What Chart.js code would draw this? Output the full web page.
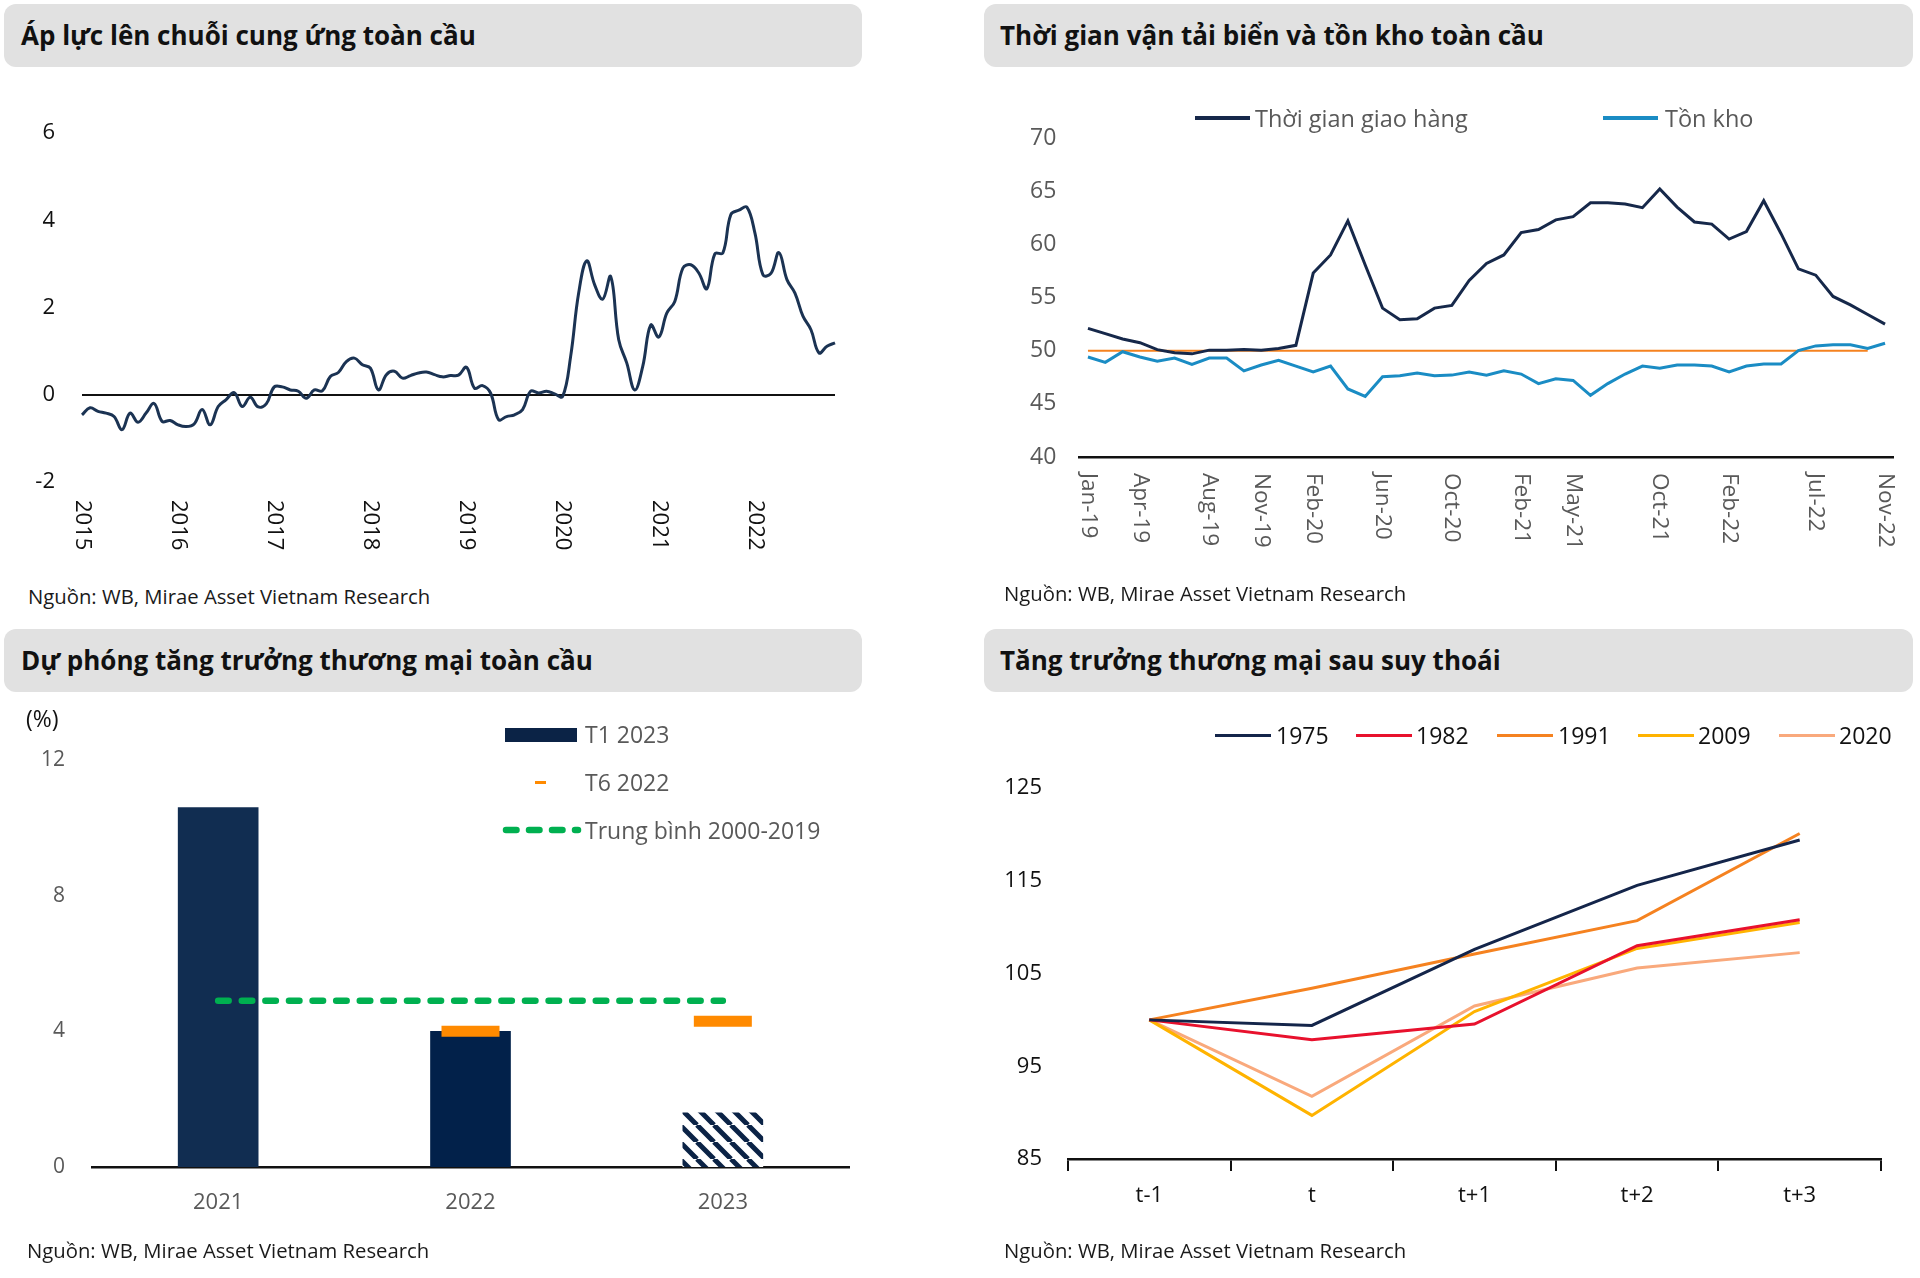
<!DOCTYPE html>
<html lang="vi">
<head>
<meta charset="utf-8">
<script src="https://cdn.jsdelivr.net/npm/chart.js@4.4.1/dist/chart.umd.min.js"></script>
<style>
html,body{margin:0;padding:0;background:#fff;}
body{width:1920px;height:1278px;position:relative;overflow:hidden;font-family:'Open Sans',sans-serif;}
.title{position:absolute;height:63px;background:#e1e1e1;border-radius:12px;font-weight:700;font-size:26px;color:#111;line-height:63px;box-sizing:border-box;white-space:nowrap;}
.src{position:absolute;font-size:20.3px;color:#1a1a1a;height:28px;line-height:28px;white-space:nowrap;}
.box{position:absolute;}
.lg{position:absolute;height:30px;line-height:30px;font-size:23px;white-space:nowrap;}
.sw{position:absolute;}
</style>
</head>
<body>
<div class="title" style="left:4px;top:4px;width:858px;padding-left:17px;">Áp lực lên chuỗi cung ứng toàn cầu</div>
<div class="title" style="left:984px;top:4px;width:929px;padding-left:16px;">Thời gian vận tải biển và tồn kho toàn cầu</div>
<div class="title" style="left:4px;top:629px;width:858px;padding-left:17px;">Dự phóng tăng trưởng thương mại toàn cầu</div>
<div class="title" style="left:984px;top:629px;width:929px;padding-left:16px;">Tăng trưởng thương mại sau suy thoái</div>

<div class="box" style="left:0;top:90px;width:870px;height:490px;"><canvas id="c1"></canvas></div>
<div class="box" style="left:984px;top:70px;width:936px;height:510px;"><canvas id="c2"></canvas></div>
<div class="box" style="left:0;top:700px;width:870px;height:540px;"><canvas id="c3"></canvas></div>
<div class="box" style="left:984px;top:700px;width:936px;height:540px;"><canvas id="c4"></canvas></div>

<div class="src" style="left:28px;top:582px;">Nguồn: WB, Mirae Asset Vietnam Research</div>
<div class="src" style="left:1004px;top:579px;">Nguồn: WB, Mirae Asset Vietnam Research</div>
<div class="src" style="left:27px;top:1236px;">Nguồn: WB, Mirae Asset Vietnam Research</div>
<div class="src" style="left:1004px;top:1236px;">Nguồn: WB, Mirae Asset Vietnam Research</div>

<!-- panel 2 legend -->
<div class="sw" style="left:1195px;top:116px;width:55px;height:3.5px;background:#16284a;"></div>
<div class="lg" style="left:1255px;top:103px;font-size:23.5px;color:#595959;">Thời gian giao hàng</div>
<div class="sw" style="left:1603px;top:116px;width:55px;height:3.5px;background:#1a8cc4;"></div>
<div class="lg" style="left:1665px;top:103px;font-size:23.5px;color:#595959;">Tồn kho</div>

<!-- panel 3 legend -->
<div class="lg" style="left:26px;top:703px;font-size:23px;color:#111;">(%)</div>
<div class="sw" style="left:505px;top:728px;width:72px;height:14px;background:#0b2346;"></div>
<div class="lg" style="left:585px;top:719px;color:#595959;">T1 2023</div>
<div class="sw" style="left:535px;top:781px;width:11px;height:2.5px;background:#ff8a00;"></div>
<div class="lg" style="left:585px;top:767px;color:#595959;">T6 2022</div>
<svg class="sw" style="left:500px;top:824px;" width="82" height="12"><line x1="6" y1="6" x2="78" y2="6" stroke="#00b050" stroke-width="6.5" stroke-dasharray="10.5 12.5" stroke-linecap="round"/></svg>
<div class="lg" style="left:585px;top:815px;color:#595959;">Trung bình 2000-2019</div>

<!-- panel 4 legend -->
<div class="sw" style="left:1215px;top:734px;width:56px;height:3px;background:#14254a;"></div>
<div class="lg" style="left:1276px;top:720px;color:#111;">1975</div>
<div class="sw" style="left:1356px;top:734px;width:56px;height:3px;background:#e8112d;"></div>
<div class="lg" style="left:1416px;top:720px;color:#111;">1982</div>
<div class="sw" style="left:1497px;top:734px;width:56px;height:3px;background:#f58220;"></div>
<div class="lg" style="left:1558px;top:720px;color:#111;">1991</div>
<div class="sw" style="left:1638px;top:734px;width:56px;height:3px;background:#ffb300;"></div>
<div class="lg" style="left:1698px;top:720px;color:#111;">2009</div>
<div class="sw" style="left:1779px;top:734px;width:56px;height:3px;background:#f9a97c;"></div>
<div class="lg" style="left:1839px;top:720px;color:#111;">2020</div>

<script>
// ---------- Panel 1: Áp lực lên chuỗi cung ứng toàn cầu ----------
const p1Months = [
 '2015-01','2015-02','2015-03','2015-04','2015-05','2015-06','2015-07','2015-08','2015-09','2015-10','2015-11','2015-12',
 '2016-01','2016-02','2016-03','2016-04','2016-05','2016-06','2016-07','2016-08','2016-09','2016-10','2016-11','2016-12',
 '2017-01','2017-02','2017-03','2017-04','2017-05','2017-06','2017-07','2017-08','2017-09','2017-10','2017-11','2017-12',
 '2018-01','2018-02','2018-03','2018-04','2018-05','2018-06','2018-07','2018-08','2018-09','2018-10','2018-11','2018-12',
 '2019-01','2019-02','2019-03','2019-04','2019-05','2019-06','2019-07','2019-08','2019-09','2019-10','2019-11','2019-12',
 '2020-01','2020-02','2020-03','2020-04','2020-05','2020-06','2020-07','2020-08','2020-09','2020-10','2020-11','2020-12',
 '2021-01','2021-02','2021-03','2021-04','2021-05','2021-06','2021-07','2021-08','2021-09','2021-10','2021-11','2021-12',
 '2022-01','2022-02','2022-03','2022-04','2022-05','2022-06','2022-07','2022-08','2022-09','2022-10','2022-11'
];
const p1Pressure = [
 -0.46,-0.30,-0.38,-0.42,-0.50,-0.80,-0.42,-0.63,-0.42,-0.20,-0.61,-0.59,
 -0.69,-0.73,-0.67,-0.34,-0.69,-0.27,-0.11,0.05,-0.27,-0.06,-0.28,-0.21,
 0.18,0.18,0.11,0.08,-0.08,0.11,0.09,0.42,0.51,0.76,0.84,0.69,
 0.61,0.11,0.46,0.54,0.38,0.44,0.50,0.52,0.46,0.41,0.44,0.45,
 0.63,0.15,0.21,0.04,-0.57,-0.50,-0.46,-0.34,0.08,0.04,0.08,0.02,
 -0.04,0.88,2.33,3.07,2.52,2.19,2.71,1.26,0.73,0.11,0.65,1.60,
 1.32,1.87,2.14,2.90,2.98,2.79,2.43,3.23,3.25,4.13,4.23,4.30,
 3.71,2.75,2.78,3.26,2.64,2.33,1.80,1.49,0.96,1.11,1.19
];
const p1YearTicks = ['2015','2016','2017','2018','2019','2020','2021','2022'];

// ---------- Panel 2: Thời gian vận tải biển và tồn kho ----------
const p2Months = [
 'Jan-19','Feb-19','Mar-19','Apr-19','May-19','Jun-19','Jul-19','Aug-19','Sep-19','Oct-19','Nov-19','Dec-19',
 'Jan-20','Feb-20','Mar-20','Apr-20','May-20','Jun-20','Jul-20','Aug-20','Sep-20','Oct-20','Nov-20','Dec-20',
 'Jan-21','Feb-21','Mar-21','Apr-21','May-21','Jun-21','Jul-21','Aug-21','Sep-21','Oct-21','Nov-21','Dec-21',
 'Jan-22','Feb-22','Mar-22','Apr-22','May-22','Jun-22','Jul-22','Aug-22','Sep-22','Oct-22','Nov-22'
];
const p2Delivery = [
 52.1,51.6,51.1,50.75,50.1,49.8,49.7,50.05,50.05,50.1,50.05,50.2,
 50.5,57.3,59.0,62.2,58.05,54.0,52.9,53.0,54.0,54.25,56.6,58.2,
 59.0,61.1,61.4,62.3,62.6,63.9,63.9,63.8,63.45,65.2,63.5,62.1,
 61.9,60.5,61.2,64.1,61.0,57.7,57.1,55.1,54.3,53.4,52.5
];
const p2Inventory = [
 49.4,48.9,49.9,49.4,49.0,49.3,48.7,49.3,49.3,48.1,48.65,49.1,
 48.55,48.0,48.55,46.4,45.7,47.55,47.65,47.9,47.65,47.7,48.0,47.7,
 48.1,47.8,46.9,47.35,47.2,45.8,46.9,47.8,48.55,48.35,48.65,48.65,
 48.55,48.0,48.55,48.75,48.75,50.0,50.45,50.55,50.55,50.2,50.7
];
const p2Neutral = [
 50,50,50,50,50,50,50,50,50,50,50,50,
 50,50,50,50,50,50,50,50,50,50,50,50,
 50,50,50,50,50,50,50,50,50,50,50,50,
 50,50,50,50,50,50,50,50,50,50,null
];
const p2TickLabels = ['Jan-19','Apr-19','Aug-19','Nov-19','Feb-20','Jun-20','Oct-20','Feb-21','May-21','Oct-21','Feb-22','Jul-22','Nov-22'];

// ---------- Panel 3: Dự phóng tăng trưởng thương mại ----------
const p3Years = ['2021','2022','2023'];
const p3Jan2023 = [10.6, 4.0, 1.6];
const p3Jun2022 = [null, 4.0, 4.3];
const p3Avg = [4.9, 4.9, 4.9];

// ---------- Panel 4: Tăng trưởng thương mại sau suy thoái ----------
const p4Periods = ['t-1','t','t+1','t+2','t+3'];
const p4y1975 = [100, 99.4, 107.6, 114.5, 119.4];
const p4y1982 = [100, 97.85, 99.55, 108.0, 110.8];
const p4y1991 = [100, 103.4, 107.1, 110.7, 120.1];
const p4y2009 = [100, 89.7, 100.9, 107.7, 110.5];
const p4y2020 = [100, 91.75, 101.5, 105.6, 107.25];

// ---------- helpers ----------
Chart.defaults.font.family = "'Open Sans', sans-serif";
Chart.defaults.animation = false;

function rotatedTicks(labels, indexOf, offsetY, font, color) {
  return {
    id: 'rotTicks',
    afterDraw(chart) {
      const ctx = chart.ctx, sx = chart.scales.x;
      const top = chart.chartArea.bottom + offsetY;
      ctx.save();
      ctx.font = font; ctx.fillStyle = color;
      ctx.textAlign = 'left'; ctx.textBaseline = 'middle';
      labels.forEach(t => {
        const i = indexOf(t);
        if (i < 0) return;
        const x = sx.getPixelForValue(i);
        ctx.save(); ctx.translate(x, top); ctx.rotate(Math.PI / 2); ctx.fillText(t, 0, 0); ctx.restore();
      });
      ctx.restore();
    }
  };
}
function fixW(w) { return s => { s.width = w; }; }
function fixH(h) { return s => { s.height = h; }; }

function hatchPattern() {
  const s = 17, c = document.createElement('canvas');
  c.width = s; c.height = s;
  const g = c.getContext('2d');
  g.fillStyle = '#ffffff'; g.fillRect(0, 0, s, s);
  g.strokeStyle = '#0b2346'; g.lineWidth = 5;
  g.beginPath();
  for (const x0 of [-s, 0, s]) { g.moveTo(x0, 0); g.lineTo(x0 + s, s); }
  g.stroke();
  return g.createPattern(c, 'repeat');
}

// ---------- Chart 1 ----------
new Chart(document.getElementById('c1'), {
  type: 'line',
  data: { labels: p1Months, datasets: [{
    label: 'Áp lực chuỗi cung ứng', data: p1Pressure,
    borderColor: '#1b3353', borderWidth: 3, pointRadius: 0, tension: 0.4, fill: false
  }]},
  options: {
    responsive: true, maintainAspectRatio: false,
    layout: { autoPadding: false, padding: { top: 43, right: 35, left: 0, bottom: 0 } },
    plugins: { legend: { display: false }, tooltip: { enabled: false } },
    scales: {
      x: { type: 'category', offset: false, grid: { display: false }, border: { display: false },
           ticks: { display: false }, afterFit: fixH(98) },
      y: { min: -2, max: 6, border: { display: false },
           ticks: { stepSize: 2, color: '#111', font: { size: 22 }, padding: 27 },
           grid: { drawTicks: false, color: c => c.tick && c.tick.value === 0 ? '#111' : 'rgba(0,0,0,0)', lineWidth: 2 },
           afterFit: fixW(82) }
    }
  },
  plugins: [rotatedTicks(p1YearTicks, t => p1Months.indexOf(t + '-01'), 18, "22px 'Open Sans', sans-serif", '#111')]
});

// ---------- Chart 2 ----------
new Chart(document.getElementById('c2'), {
  type: 'line',
  data: { labels: p2Months, datasets: [
    { label: 'Thời gian giao hàng', data: p2Delivery, borderColor: '#16284a', borderWidth: 3, pointRadius: 0, tension: 0 },
    { label: 'Tồn kho', data: p2Inventory, borderColor: '#1a8cc4', borderWidth: 3, pointRadius: 0, tension: 0 },
    { label: '50', data: p2Neutral, borderColor: '#f5821f', borderWidth: 2, pointRadius: 0, tension: 0 }
  ]},
  options: {
    responsive: true, maintainAspectRatio: false,
    layout: { autoPadding: false, padding: { top: 68, right: 26.3, left: 0, bottom: 0 } },
    plugins: { legend: { display: false }, tooltip: { enabled: false } },
    scales: {
      x: { type: 'category', offset: true, grid: { display: false },
           border: { display: true, color: '#111', width: 2.5 },
           ticks: { display: false }, afterFit: fixH(123) },
      y: { min: 40, max: 70, border: { display: false }, grid: { display: false, drawTicks: false },
           ticks: { stepSize: 5, color: '#595959', font: { size: 23 }, padding: 23 },
           afterFit: fixW(95.3) }
    }
  },
  plugins: [rotatedTicks(p2TickLabels, t => p2Months.indexOf(t), 16, "22.5px 'Open Sans', sans-serif", '#595959')]
});

// ---------- Chart 3 ----------
new Chart(document.getElementById('c3'), {
  type: 'bar',
  data: { labels: p3Years, datasets: [
    { type: 'line', label: 'T6 2022', data: p3Jun2022, showLine: false, order: 0,
      pointStyle: 'line', pointRadius: 29, pointHoverRadius: 29, pointBorderWidth: 11,
      pointBorderColor: '#ff8a00', pointBackgroundColor: '#ff8a00', borderColor: '#ff8a00' },
    { type: 'line', label: 'Trung bình 2000-2019', data: p3Avg, order: 1,
      borderColor: '#00b050', borderWidth: 6.5, borderDash: [10.5, 13.1], borderCapStyle: 'round',
      pointRadius: 0, tension: 0 },
    { type: 'bar', label: 'T1 2023', data: p3Jan2023, order: 2, barThickness: 80,
      backgroundColor: ['#112d51', '#02214a', hatchPattern()], borderWidth: 0 }
  ]},
  options: {
    responsive: true, maintainAspectRatio: false,
    layout: { autoPadding: false, padding: { top: 60, right: 21, left: 0, bottom: 0 } },
    plugins: { legend: { display: false }, tooltip: { enabled: false } },
    scales: {
      x: { offset: true, grid: { display: false, drawTicks: false },
           border: { display: true, color: '#111', width: 2.5 },
           ticks: { color: '#595959', font: { size: 22 }, padding: 22.5 }, afterFit: fixH(73) },
      y: { min: 0, max: 12, border: { display: false }, grid: { display: false, drawTicks: false },
           ticks: { stepSize: 4, color: '#595959', font: { size: 21 }, padding: 27 },
           afterFit: fixW(92) }
    }
  }
});

// ---------- Chart 4 ----------
new Chart(document.getElementById('c4'), {
  type: 'line',
  data: { labels: p4Periods, datasets: [
    { label: '1975', data: p4y1975, borderColor: '#14254a', borderWidth: 3, pointRadius: 0, tension: 0 },
    { label: '1982', data: p4y1982, borderColor: '#e8112d', borderWidth: 3, pointRadius: 0, tension: 0 },
    { label: '1991', data: p4y1991, borderColor: '#f58220', borderWidth: 3, pointRadius: 0, tension: 0 },
    { label: '2009', data: p4y2009, borderColor: '#ffb300', borderWidth: 3, pointRadius: 0, tension: 0 },
    { label: '2020', data: p4y2020, borderColor: '#f9a97c', borderWidth: 3, pointRadius: 0, tension: 0 }
  ]},
  options: {
    responsive: true, maintainAspectRatio: false,
    layout: { autoPadding: false, padding: { top: 88, right: 39, left: 0, bottom: 0 } },
    plugins: { legend: { display: false }, tooltip: { enabled: false } },
    scales: {
      x: { type: 'category', offset: true,
           grid: { display: true, offset: true, drawOnChartArea: false, drawTicks: true, tickLength: 12, color: '#111', lineWidth: 2 },
           border: { display: true, color: '#111', width: 2.5 },
           ticks: { color: '#111', font: { size: 22 }, padding: 12 }, afterFit: fixH(81) },
      y: { min: 85, max: 125, border: { display: false }, grid: { display: false, drawTicks: false },
           ticks: { stepSize: 10, color: '#111', font: { size: 22 }, padding: 26 },
           afterFit: fixW(84) }
    }
  }
});
</script>
</body>
</html>
